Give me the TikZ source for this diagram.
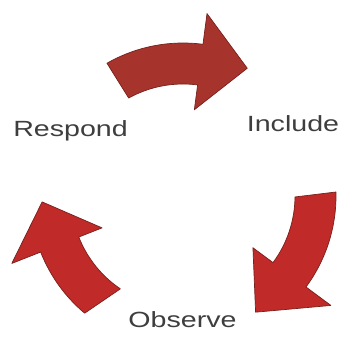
\documentclass[tikz,border=0pt]{standalone}
\usepackage{fontspec}
\setmainfont{Liberation Sans}
\definecolor{arrowtop}{RGB}{166,52,44}
\definecolor{arrowred}{RGB}{192,42,40}
\definecolor{arrowedge}{RGB}{120,32,28}
\definecolor{labelgray}{RGB}{62,62,62}
\tikzset{
  cyclearrow/.style={draw=arrowedge, line width=0.7pt, line join=round},
  lbl/.style={text=labelgray, font=\fontsize{22}{24}\selectfont, anchor=base, inner sep=0pt}
}
% #1 style, #2 tail outer angle, #3 tail inner angle, #4 head angle, #5 tip angle, #6 tip radius
\newcommand\cycarrow[6]{%
  \path[#1] (#2:153pt) arc[start angle=#2, end angle=#4, radius=153pt]
    -- (#4:184pt) -- (#5:#6) -- (#4:87pt) -- (#4:112pt)
    arc[start angle=#4, end angle=#3, radius=112pt] -- cycle;}
\begin{document}
\begin{tikzpicture}[x=1pt,y=1pt]
  \useasboundingbox (0,0) rectangle (346,337);
  \coordinate (O) at (183,141);
  \begin{scope}[shift={(O)}]
    \cycarrow{cyclearrow, fill=arrowtop}{119.8}{119}{82.5}{63.3}{143pt}
    \cycarrow{cyclearrow, fill=arrowred}{1.5}{-0.5}{-36.5}{-58}{137pt}
    \cycarrow{cyclearrow, fill=arrowred}{230}{236}{201.5}{182.4}{141pt}
  \end{scope}
  \node[lbl] (respond) at (70.5,200) {\scalebox{1.3}[1]{Respond}};
  \node[lbl] (include) at (293,205) {\scalebox{1.3}[1]{Include}};
  \node[lbl] (observe) at (182.5,9) {\scalebox{1.3}[1]{Observe}};
\end{tikzpicture}
\end{document}
